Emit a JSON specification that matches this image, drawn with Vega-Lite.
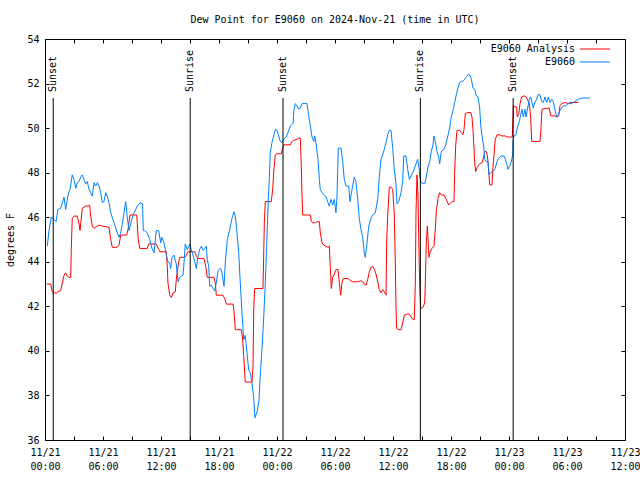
{
  "$schema": "https://vega.github.io/schema/vega-lite/v6.json",
  "autosize": "none",
  "width": 580,
  "height": 401,
  "padding": {"left": 45, "top": 39, "right": 15, "bottom": 40},
  "background": "white",
  "title": {"text": "Dew Point for E9060 on 2024-Nov-21 (time in UTC)", "font": "DejaVu Sans Mono", "fontSize": 10, "fontWeight": "normal", "color": "black", "baseline": "middle", "offset": 4, "anchor": "middle", "frame": "group"},
  "config": {
    "font": "DejaVu Sans Mono",
    "view": {"stroke": "black", "strokeWidth": 1},
    "axis": {"grid": false, "domain": false, "tickColor": "black", "labelColor": "black", "labelFont": "DejaVu Sans Mono", "labelFontSize": 10, "titleFont": "DejaVu Sans Mono", "titleFontSize": 10, "titleFontWeight": "normal", "titleColor": "black"}
  },
  "datasets": {
    "legend": [{"s": "E9060 Analysis"}, {"s": "E9060"}],
    "sun": [
      {"label": "Sunset", "h": 0.85},
      {"label": "Sunrise", "h": 15.02},
      {"label": "Sunset", "h": 24.62},
      {"label": "Sunrise", "h": 38.83},
      {"label": "Sunset", "h": 48.43}
    ],
    "dew": [
      {"s":"E9060 Analysis","h":0.18,"v":43.0},{"s":"E9060 Analysis","h":0.59,"v":43.0},{"s":"E9060 Analysis","h":0.76,"v":42.65},{"s":"E9060 Analysis","h":0.86,"v":42.6},{"s":"E9060 Analysis","h":1.21,"v":42.6},{"s":"E9060 Analysis","h":1.34,"v":42.65},{"s":"E9060 Analysis","h":1.62,"v":42.7},{"s":"E9060 Analysis","h":1.79,"v":43.05},{"s":"E9060 Analysis","h":1.97,"v":43.4},{"s":"E9060 Analysis","h":2.14,"v":43.5},{"s":"E9060 Analysis","h":2.31,"v":43.35},{"s":"E9060 Analysis","h":2.48,"v":43.3},{"s":"E9060 Analysis","h":2.66,"v":43.3},{"s":"E9060 Analysis","h":2.72,"v":44.55},{"s":"E9060 Analysis","h":2.82,"v":45.95},{"s":"E9060 Analysis","h":3.0,"v":46.05},{"s":"E9060 Analysis","h":3.34,"v":46.05},{"s":"E9060 Analysis","h":3.52,"v":45.7},{"s":"E9060 Analysis","h":3.62,"v":45.4},{"s":"E9060 Analysis","h":3.69,"v":45.7},{"s":"E9060 Analysis","h":3.86,"v":46.4},{"s":"E9060 Analysis","h":4.21,"v":46.5},{"s":"E9060 Analysis","h":4.48,"v":46.5},{"s":"E9060 Analysis","h":4.62,"v":46.55},{"s":"E9060 Analysis","h":4.73,"v":46.05},{"s":"E9060 Analysis","h":4.89,"v":45.6},{"s":"E9060 Analysis","h":5.07,"v":45.5},{"s":"E9060 Analysis","h":5.41,"v":45.6},{"s":"E9060 Analysis","h":5.59,"v":45.65},{"s":"E9060 Analysis","h":5.93,"v":45.6},{"s":"E9060 Analysis","h":6.62,"v":45.55},{"s":"E9060 Analysis","h":6.8,"v":45.0},{"s":"E9060 Analysis","h":6.96,"v":44.65},{"s":"E9060 Analysis","h":7.48,"v":44.65},{"s":"E9060 Analysis","h":7.66,"v":44.75},{"s":"E9060 Analysis","h":7.83,"v":45.2},{"s":"E9060 Analysis","h":8.45,"v":45.2},{"s":"E9060 Analysis","h":8.59,"v":45.45},{"s":"E9060 Analysis","h":8.79,"v":46.1},{"s":"E9060 Analysis","h":9.49,"v":46.1},{"s":"E9060 Analysis","h":9.65,"v":45.0},{"s":"E9060 Analysis","h":9.8,"v":44.6},{"s":"E9060 Analysis","h":10.58,"v":44.6},{"s":"E9060 Analysis","h":10.73,"v":44.8},{"s":"E9060 Analysis","h":11.51,"v":44.8},{"s":"E9060 Analysis","h":11.76,"v":44.55},{"s":"E9060 Analysis","h":11.87,"v":44.45},{"s":"E9060 Analysis","h":12.55,"v":44.45},{"s":"E9060 Analysis","h":12.65,"v":43.8},{"s":"E9060 Analysis","h":12.72,"v":43.05},{"s":"E9060 Analysis","h":12.9,"v":42.5},{"s":"E9060 Analysis","h":13.07,"v":42.4},{"s":"E9060 Analysis","h":13.24,"v":42.6},{"s":"E9060 Analysis","h":13.48,"v":42.65},{"s":"E9060 Analysis","h":13.58,"v":43.2},{"s":"E9060 Analysis","h":13.76,"v":43.8},{"s":"E9060 Analysis","h":13.93,"v":44.2},{"s":"E9060 Analysis","h":14.45,"v":44.2},{"s":"E9060 Analysis","h":14.62,"v":44.3},{"s":"E9060 Analysis","h":14.79,"v":44.45},{"s":"E9060 Analysis","h":15.49,"v":44.45},{"s":"E9060 Analysis","h":15.65,"v":44.25},{"s":"E9060 Analysis","h":15.83,"v":44.15},{"s":"E9060 Analysis","h":16.45,"v":44.15},{"s":"E9060 Analysis","h":16.62,"v":43.8},{"s":"E9060 Analysis","h":16.79,"v":43.3},{"s":"E9060 Analysis","h":17.48,"v":43.3},{"s":"E9060 Analysis","h":17.62,"v":43.05},{"s":"E9060 Analysis","h":17.72,"v":42.5},{"s":"E9060 Analysis","h":18.41,"v":42.5},{"s":"E9060 Analysis","h":18.59,"v":42.35},{"s":"E9060 Analysis","h":18.76,"v":42.1},{"s":"E9060 Analysis","h":19.45,"v":42.1},{"s":"E9060 Analysis","h":19.55,"v":41.8},{"s":"E9060 Analysis","h":19.69,"v":40.95},{"s":"E9060 Analysis","h":20.31,"v":40.95},{"s":"E9060 Analysis","h":20.45,"v":40.5},{"s":"E9060 Analysis","h":20.56,"v":39.75},{"s":"E9060 Analysis","h":20.72,"v":38.6},{"s":"E9060 Analysis","h":21.41,"v":38.6},{"s":"E9060 Analysis","h":21.52,"v":39.3},{"s":"E9060 Analysis","h":21.59,"v":41.8},{"s":"E9060 Analysis","h":21.69,"v":42.8},{"s":"E9060 Analysis","h":22.55,"v":42.8},{"s":"E9060 Analysis","h":22.62,"v":44.25},{"s":"E9060 Analysis","h":22.69,"v":45.75},{"s":"E9060 Analysis","h":22.79,"v":46.7},{"s":"E9060 Analysis","h":23.41,"v":46.7},{"s":"E9060 Analysis","h":23.55,"v":47.25},{"s":"E9060 Analysis","h":23.66,"v":48.0},{"s":"E9060 Analysis","h":23.82,"v":48.8},{"s":"E9060 Analysis","h":24.0,"v":48.85},{"s":"E9060 Analysis","h":24.45,"v":48.85},{"s":"E9060 Analysis","h":24.59,"v":49.1},{"s":"E9060 Analysis","h":24.69,"v":49.25},{"s":"E9060 Analysis","h":25.38,"v":49.25},{"s":"E9060 Analysis","h":25.55,"v":49.4},{"s":"E9060 Analysis","h":25.73,"v":49.45},{"s":"E9060 Analysis","h":26.07,"v":49.5},{"s":"E9060 Analysis","h":26.24,"v":49.55},{"s":"E9060 Analysis","h":26.41,"v":49.55},{"s":"E9060 Analysis","h":26.48,"v":48.75},{"s":"E9060 Analysis","h":26.59,"v":46.95},{"s":"E9060 Analysis","h":26.66,"v":46.1},{"s":"E9060 Analysis","h":27.45,"v":46.1},{"s":"E9060 Analysis","h":27.55,"v":45.8},{"s":"E9060 Analysis","h":27.69,"v":45.75},{"s":"E9060 Analysis","h":27.96,"v":45.75},{"s":"E9060 Analysis","h":28.14,"v":45.8},{"s":"E9060 Analysis","h":28.38,"v":45.8},{"s":"E9060 Analysis","h":28.48,"v":45.3},{"s":"E9060 Analysis","h":28.66,"v":44.85},{"s":"E9060 Analysis","h":28.83,"v":44.75},{"s":"E9060 Analysis","h":29.28,"v":44.65},{"s":"E9060 Analysis","h":29.41,"v":44.7},{"s":"E9060 Analysis","h":29.51,"v":43.8},{"s":"E9060 Analysis","h":29.62,"v":42.8},{"s":"E9060 Analysis","h":29.76,"v":43.3},{"s":"E9060 Analysis","h":29.93,"v":43.45},{"s":"E9060 Analysis","h":30.1,"v":43.65},{"s":"E9060 Analysis","h":30.31,"v":43.65},{"s":"E9060 Analysis","h":30.45,"v":43.05},{"s":"E9060 Analysis","h":30.59,"v":42.5},{"s":"E9060 Analysis","h":30.72,"v":43.05},{"s":"E9060 Analysis","h":30.86,"v":43.25},{"s":"E9060 Analysis","h":31.31,"v":43.25},{"s":"E9060 Analysis","h":31.48,"v":43.2},{"s":"E9060 Analysis","h":31.83,"v":43.1},{"s":"E9060 Analysis","h":32.35,"v":43.1},{"s":"E9060 Analysis","h":32.69,"v":43.15},{"s":"E9060 Analysis","h":32.86,"v":43.1},{"s":"E9060 Analysis","h":33.03,"v":43.0},{"s":"E9060 Analysis","h":33.21,"v":42.95},{"s":"E9060 Analysis","h":33.38,"v":43.2},{"s":"E9060 Analysis","h":33.55,"v":43.55},{"s":"E9060 Analysis","h":33.72,"v":43.75},{"s":"E9060 Analysis","h":33.9,"v":43.8},{"s":"E9060 Analysis","h":34.07,"v":43.65},{"s":"E9060 Analysis","h":34.24,"v":43.45},{"s":"E9060 Analysis","h":34.42,"v":43.1},{"s":"E9060 Analysis","h":34.58,"v":42.75},{"s":"E9060 Analysis","h":34.76,"v":42.6},{"s":"E9060 Analysis","h":34.93,"v":42.75},{"s":"E9060 Analysis","h":35.1,"v":42.65},{"s":"E9060 Analysis","h":35.28,"v":42.5},{"s":"E9060 Analysis","h":35.35,"v":45.0},{"s":"E9060 Analysis","h":35.45,"v":46.05},{"s":"E9060 Analysis","h":35.62,"v":47.35},{"s":"E9060 Analysis","h":35.79,"v":47.35},{"s":"E9060 Analysis","h":35.97,"v":47.25},{"s":"E9060 Analysis","h":36.13,"v":46.2},{"s":"E9060 Analysis","h":36.24,"v":43.95},{"s":"E9060 Analysis","h":36.31,"v":42.0},{"s":"E9060 Analysis","h":36.38,"v":41.0},{"s":"E9060 Analysis","h":36.59,"v":40.95},{"s":"E9060 Analysis","h":36.83,"v":40.95},{"s":"E9060 Analysis","h":37.0,"v":41.25},{"s":"E9060 Analysis","h":37.17,"v":41.6},{"s":"E9060 Analysis","h":37.42,"v":41.65},{"s":"E9060 Analysis","h":37.69,"v":41.65},{"s":"E9060 Analysis","h":37.97,"v":41.45},{"s":"E9060 Analysis","h":38.2,"v":41.4},{"s":"E9060 Analysis","h":38.31,"v":43.0},{"s":"E9060 Analysis","h":38.38,"v":46.2},{"s":"E9060 Analysis","h":38.48,"v":47.9},{"s":"E9060 Analysis","h":38.59,"v":46.95},{"s":"E9060 Analysis","h":38.66,"v":45.1},{"s":"E9060 Analysis","h":38.76,"v":43.0},{"s":"E9060 Analysis","h":38.86,"v":41.9},{"s":"E9060 Analysis","h":39.1,"v":41.95},{"s":"E9060 Analysis","h":39.28,"v":42.15},{"s":"E9060 Analysis","h":39.34,"v":43.0},{"s":"E9060 Analysis","h":39.44,"v":44.8},{"s":"E9060 Analysis","h":39.55,"v":45.6},{"s":"E9060 Analysis","h":39.62,"v":45.1},{"s":"E9060 Analysis","h":39.72,"v":44.2},{"s":"E9060 Analysis","h":39.86,"v":44.45},{"s":"E9060 Analysis","h":40.03,"v":44.6},{"s":"E9060 Analysis","h":40.24,"v":44.7},{"s":"E9060 Analysis","h":40.38,"v":45.5},{"s":"E9060 Analysis","h":40.48,"v":46.25},{"s":"E9060 Analysis","h":40.66,"v":46.85},{"s":"E9060 Analysis","h":40.83,"v":47.1},{"s":"E9060 Analysis","h":41.0,"v":47.0},{"s":"E9060 Analysis","h":41.28,"v":47.0},{"s":"E9060 Analysis","h":41.51,"v":46.8},{"s":"E9060 Analysis","h":41.76,"v":46.55},{"s":"E9060 Analysis","h":41.97,"v":46.65},{"s":"E9060 Analysis","h":42.13,"v":46.7},{"s":"E9060 Analysis","h":42.31,"v":46.7},{"s":"E9060 Analysis","h":42.38,"v":48.05},{"s":"E9060 Analysis","h":42.49,"v":49.25},{"s":"E9060 Analysis","h":42.62,"v":49.9},{"s":"E9060 Analysis","h":42.9,"v":49.9},{"s":"E9060 Analysis","h":43.07,"v":49.8},{"s":"E9060 Analysis","h":43.24,"v":49.7},{"s":"E9060 Analysis","h":43.35,"v":49.95},{"s":"E9060 Analysis","h":43.48,"v":50.65},{"s":"E9060 Analysis","h":43.69,"v":50.7},{"s":"E9060 Analysis","h":44.04,"v":50.7},{"s":"E9060 Analysis","h":44.17,"v":50.5},{"s":"E9060 Analysis","h":44.28,"v":49.9},{"s":"E9060 Analysis","h":44.38,"v":49.1},{"s":"E9060 Analysis","h":44.45,"v":48.45},{"s":"E9060 Analysis","h":44.55,"v":48.05},{"s":"E9060 Analysis","h":44.72,"v":48.25},{"s":"E9060 Analysis","h":44.97,"v":48.4},{"s":"E9060 Analysis","h":45.21,"v":48.45},{"s":"E9060 Analysis","h":45.38,"v":48.7},{"s":"E9060 Analysis","h":45.49,"v":48.95},{"s":"E9060 Analysis","h":45.65,"v":48.95},{"s":"E9060 Analysis","h":45.76,"v":48.75},{"s":"E9060 Analysis","h":45.83,"v":48.5},{"s":"E9060 Analysis","h":45.93,"v":47.9},{"s":"E9060 Analysis","h":46.0,"v":47.45},{"s":"E9060 Analysis","h":46.24,"v":47.45},{"s":"E9060 Analysis","h":46.34,"v":48.25},{"s":"E9060 Analysis","h":46.45,"v":48.8},{"s":"E9060 Analysis","h":46.58,"v":49.5},{"s":"E9060 Analysis","h":46.76,"v":49.7},{"s":"E9060 Analysis","h":47.04,"v":49.7},{"s":"E9060 Analysis","h":47.2,"v":49.65},{"s":"E9060 Analysis","h":47.62,"v":49.65},{"s":"E9060 Analysis","h":47.83,"v":49.6},{"s":"E9060 Analysis","h":48.34,"v":49.6},{"s":"E9060 Analysis","h":48.45,"v":51.0},{"s":"E9060 Analysis","h":48.62,"v":50.95},{"s":"E9060 Analysis","h":48.79,"v":50.95},{"s":"E9060 Analysis","h":48.86,"v":50.5},{"s":"E9060 Analysis","h":49.0,"v":50.6},{"s":"E9060 Analysis","h":49.14,"v":51.1},{"s":"E9060 Analysis","h":49.31,"v":51.4},{"s":"E9060 Analysis","h":49.55,"v":51.45},{"s":"E9060 Analysis","h":49.76,"v":51.4},{"s":"E9060 Analysis","h":49.89,"v":51.3},{"s":"E9060 Analysis","h":50.1,"v":51.1},{"s":"E9060 Analysis","h":50.24,"v":50.5},{"s":"E9060 Analysis","h":50.35,"v":49.4},{"s":"E9060 Analysis","h":51.21,"v":49.4},{"s":"E9060 Analysis","h":51.31,"v":50.0},{"s":"E9060 Analysis","h":51.41,"v":50.85},{"s":"E9060 Analysis","h":52.17,"v":50.9},{"s":"E9060 Analysis","h":52.31,"v":50.55},{"s":"E9060 Analysis","h":52.76,"v":50.55},{"s":"E9060 Analysis","h":52.93,"v":50.5},{"s":"E9060 Analysis","h":53.14,"v":50.55},{"s":"E9060 Analysis","h":53.28,"v":51.0},{"s":"E9060 Analysis","h":53.45,"v":51.1},{"s":"E9060 Analysis","h":53.79,"v":51.15},{"s":"E9060 Analysis","h":54.13,"v":51.1},{"s":"E9060 Analysis","h":54.31,"v":51.15},{"s":"E9060 Analysis","h":55.17,"v":51.15},
      {"s":"E9060","h":0.24,"v":44.7},{"s":"E9060","h":0.41,"v":45.4},{"s":"E9060","h":0.65,"v":46.0},{"s":"E9060","h":0.93,"v":45.9},{"s":"E9060","h":1.14,"v":45.8},{"s":"E9060","h":1.34,"v":46.35},{"s":"E9060","h":1.62,"v":46.4},{"s":"E9060","h":1.79,"v":46.65},{"s":"E9060","h":1.97,"v":46.9},{"s":"E9060","h":2.14,"v":46.35},{"s":"E9060","h":2.38,"v":47.0},{"s":"E9060","h":2.59,"v":47.25},{"s":"E9060","h":2.82,"v":47.9},{"s":"E9060","h":3.0,"v":47.7},{"s":"E9060","h":3.18,"v":47.3},{"s":"E9060","h":3.34,"v":47.55},{"s":"E9060","h":3.52,"v":47.6},{"s":"E9060","h":3.69,"v":47.8},{"s":"E9060","h":3.86,"v":47.9},{"s":"E9060","h":4.03,"v":47.7},{"s":"E9060","h":4.21,"v":47.5},{"s":"E9060","h":4.38,"v":47.6},{"s":"E9060","h":4.55,"v":47.25},{"s":"E9060","h":4.73,"v":47.1},{"s":"E9060","h":4.89,"v":46.95},{"s":"E9060","h":5.07,"v":47.55},{"s":"E9060","h":5.24,"v":47.4},{"s":"E9060","h":5.41,"v":47.55},{"s":"E9060","h":5.59,"v":47.4},{"s":"E9060","h":5.76,"v":47.1},{"s":"E9060","h":5.93,"v":46.65},{"s":"E9060","h":6.1,"v":46.7},{"s":"E9060","h":6.28,"v":47.1},{"s":"E9060","h":6.44,"v":46.95},{"s":"E9060","h":6.62,"v":46.65},{"s":"E9060","h":6.8,"v":46.2},{"s":"E9060","h":7.14,"v":45.75},{"s":"E9060","h":7.48,"v":45.3},{"s":"E9060","h":7.66,"v":45.1},{"s":"E9060","h":7.83,"v":45.3},{"s":"E9060","h":8.0,"v":45.7},{"s":"E9060","h":8.17,"v":46.2},{"s":"E9060","h":8.35,"v":46.7},{"s":"E9060","h":8.51,"v":46.0},{"s":"E9060","h":8.69,"v":45.4},{"s":"E9060","h":8.87,"v":45.7},{"s":"E9060","h":9.03,"v":46.0},{"s":"E9060","h":9.21,"v":46.2},{"s":"E9060","h":9.55,"v":46.5},{"s":"E9060","h":9.83,"v":46.65},{"s":"E9060","h":10.09,"v":46.6},{"s":"E9060","h":10.17,"v":45.4},{"s":"E9060","h":10.31,"v":45.4},{"s":"E9060","h":10.58,"v":45.3},{"s":"E9060","h":10.83,"v":45.0},{"s":"E9060","h":11.07,"v":44.6},{"s":"E9060","h":11.28,"v":44.4},{"s":"E9060","h":11.51,"v":45.4},{"s":"E9060","h":11.76,"v":45.4},{"s":"E9060","h":11.97,"v":44.85},{"s":"E9060","h":12.1,"v":45.1},{"s":"E9060","h":12.31,"v":44.85},{"s":"E9060","h":12.55,"v":44.3},{"s":"E9060","h":12.72,"v":44.0},{"s":"E9060","h":12.9,"v":43.95},{"s":"E9060","h":13.0,"v":43.7},{"s":"E9060","h":13.14,"v":44.2},{"s":"E9060","h":13.34,"v":44.3},{"s":"E9060","h":13.58,"v":43.9},{"s":"E9060","h":13.76,"v":43.1},{"s":"E9060","h":13.93,"v":43.3},{"s":"E9060","h":14.1,"v":43.35},{"s":"E9060","h":14.28,"v":43.4},{"s":"E9060","h":14.38,"v":43.95},{"s":"E9060","h":14.51,"v":44.8},{"s":"E9060","h":14.72,"v":44.55},{"s":"E9060","h":14.87,"v":44.7},{"s":"E9060","h":15.0,"v":44.8},{"s":"E9060","h":15.13,"v":44.55},{"s":"E9060","h":15.31,"v":44.3},{"s":"E9060","h":15.49,"v":44.0},{"s":"E9060","h":15.65,"v":43.7},{"s":"E9060","h":15.83,"v":44.25},{"s":"E9060","h":16.0,"v":44.55},{"s":"E9060","h":16.17,"v":44.7},{"s":"E9060","h":16.38,"v":44.5},{"s":"E9060","h":16.52,"v":44.6},{"s":"E9060","h":16.69,"v":44.7},{"s":"E9060","h":16.79,"v":44.1},{"s":"E9060","h":16.93,"v":43.8},{"s":"E9060","h":17.04,"v":42.9},{"s":"E9060","h":17.2,"v":42.95},{"s":"E9060","h":17.38,"v":42.8},{"s":"E9060","h":17.55,"v":42.7},{"s":"E9060","h":17.72,"v":43.05},{"s":"E9060","h":17.9,"v":43.6},{"s":"E9060","h":18.07,"v":43.7},{"s":"E9060","h":18.24,"v":43.65},{"s":"E9060","h":18.41,"v":43.2},{"s":"E9060","h":18.52,"v":42.9},{"s":"E9060","h":18.65,"v":43.95},{"s":"E9060","h":18.86,"v":45.0},{"s":"E9060","h":19.11,"v":45.45},{"s":"E9060","h":19.34,"v":45.95},{"s":"E9060","h":19.55,"v":46.25},{"s":"E9060","h":19.69,"v":46.05},{"s":"E9060","h":19.86,"v":45.3},{"s":"E9060","h":20.04,"v":44.4},{"s":"E9060","h":20.2,"v":43.05},{"s":"E9060","h":20.38,"v":41.7},{"s":"E9060","h":20.56,"v":40.5},{"s":"E9060","h":20.72,"v":40.7},{"s":"E9060","h":20.9,"v":39.9},{"s":"E9060","h":21.07,"v":39.15},{"s":"E9060","h":21.24,"v":39.0},{"s":"E9060","h":21.41,"v":38.55},{"s":"E9060","h":21.59,"v":37.9},{"s":"E9060","h":21.72,"v":37.0},{"s":"E9060","h":21.96,"v":37.3},{"s":"E9060","h":22.14,"v":37.8},{"s":"E9060","h":22.24,"v":38.7},{"s":"E9060","h":22.42,"v":39.9},{"s":"E9060","h":22.58,"v":41.1},{"s":"E9060","h":22.76,"v":42.75},{"s":"E9060","h":22.93,"v":44.7},{"s":"E9060","h":23.1,"v":46.8},{"s":"E9060","h":23.2,"v":47.7},{"s":"E9060","h":23.31,"v":48.9},{"s":"E9060","h":23.48,"v":49.35},{"s":"E9060","h":23.66,"v":49.65},{"s":"E9060","h":23.82,"v":49.95},{"s":"E9060","h":24.0,"v":49.9},{"s":"E9060","h":24.17,"v":49.65},{"s":"E9060","h":24.34,"v":49.4},{"s":"E9060","h":24.52,"v":49.35},{"s":"E9060","h":24.69,"v":49.5},{"s":"E9060","h":24.93,"v":49.6},{"s":"E9060","h":25.14,"v":49.8},{"s":"E9060","h":25.38,"v":50.1},{"s":"E9060","h":25.66,"v":50.2},{"s":"E9060","h":25.76,"v":50.85},{"s":"E9060","h":25.89,"v":51.1},{"s":"E9060","h":26.07,"v":51.0},{"s":"E9060","h":26.24,"v":50.85},{"s":"E9060","h":26.41,"v":50.9},{"s":"E9060","h":26.59,"v":51.1},{"s":"E9060","h":27.1,"v":51.1},{"s":"E9060","h":27.28,"v":50.55},{"s":"E9060","h":27.45,"v":50.1},{"s":"E9060","h":27.62,"v":49.6},{"s":"E9060","h":27.8,"v":49.4},{"s":"E9060","h":27.9,"v":49.65},{"s":"E9060","h":28.03,"v":49.35},{"s":"E9060","h":28.24,"v":48.6},{"s":"E9060","h":28.38,"v":47.7},{"s":"E9060","h":28.48,"v":47.25},{"s":"E9060","h":28.66,"v":47.1},{"s":"E9060","h":28.93,"v":47.0},{"s":"E9060","h":29.1,"v":46.9},{"s":"E9060","h":29.28,"v":46.65},{"s":"E9060","h":29.41,"v":46.5},{"s":"E9060","h":29.59,"v":46.8},{"s":"E9060","h":29.76,"v":46.55},{"s":"E9060","h":29.93,"v":46.8},{"s":"E9060","h":30.1,"v":46.2},{"s":"E9060","h":30.21,"v":46.95},{"s":"E9060","h":30.34,"v":49.1},{"s":"E9060","h":30.62,"v":49.1},{"s":"E9060","h":30.8,"v":48.5},{"s":"E9060","h":30.96,"v":47.7},{"s":"E9060","h":31.14,"v":47.4},{"s":"E9060","h":31.42,"v":47.4},{"s":"E9060","h":31.55,"v":46.7},{"s":"E9060","h":31.76,"v":47.25},{"s":"E9060","h":32.0,"v":47.8},{"s":"E9060","h":32.17,"v":47.6},{"s":"E9060","h":32.35,"v":46.8},{"s":"E9060","h":32.51,"v":45.95},{"s":"E9060","h":32.69,"v":45.45},{"s":"E9060","h":32.86,"v":45.1},{"s":"E9060","h":33.03,"v":44.4},{"s":"E9060","h":33.13,"v":44.2},{"s":"E9060","h":33.28,"v":44.7},{"s":"E9060","h":33.49,"v":45.6},{"s":"E9060","h":33.72,"v":45.95},{"s":"E9060","h":33.9,"v":46.1},{"s":"E9060","h":34.17,"v":46.2},{"s":"E9060","h":34.42,"v":46.8},{"s":"E9060","h":34.58,"v":47.8},{"s":"E9060","h":34.76,"v":48.6},{"s":"E9060","h":34.93,"v":48.8},{"s":"E9060","h":35.1,"v":49.05},{"s":"E9060","h":35.28,"v":49.35},{"s":"E9060","h":35.45,"v":49.7},{"s":"E9060","h":35.62,"v":49.9},{"s":"E9060","h":35.79,"v":49.9},{"s":"E9060","h":35.97,"v":49.1},{"s":"E9060","h":36.13,"v":48.15},{"s":"E9060","h":36.31,"v":47.5},{"s":"E9060","h":36.41,"v":46.6},{"s":"E9060","h":36.59,"v":46.7},{"s":"E9060","h":36.83,"v":47.1},{"s":"E9060","h":37.0,"v":47.6},{"s":"E9060","h":37.11,"v":48.75},{"s":"E9060","h":37.34,"v":48.75},{"s":"E9060","h":37.52,"v":48.15},{"s":"E9060","h":37.69,"v":47.7},{"s":"E9060","h":37.86,"v":47.85},{"s":"E9060","h":38.1,"v":48.05},{"s":"E9060","h":38.38,"v":48.4},{"s":"E9060","h":38.55,"v":48.6},{"s":"E9060","h":38.72,"v":48.15},{"s":"E9060","h":38.76,"v":47.8},{"s":"E9060","h":38.93,"v":47.55},{"s":"E9060","h":39.28,"v":47.5},{"s":"E9060","h":39.44,"v":47.8},{"s":"E9060","h":39.62,"v":48.25},{"s":"E9060","h":39.8,"v":48.5},{"s":"E9060","h":39.96,"v":48.95},{"s":"E9060","h":40.14,"v":49.25},{"s":"E9060","h":40.24,"v":49.65},{"s":"E9060","h":40.38,"v":49.4},{"s":"E9060","h":40.55,"v":48.95},{"s":"E9060","h":40.73,"v":48.7},{"s":"E9060","h":40.83,"v":48.4},{"s":"E9060","h":41.0,"v":48.95},{"s":"E9060","h":41.28,"v":49.05},{"s":"E9060","h":41.45,"v":49.25},{"s":"E9060","h":41.62,"v":49.55},{"s":"E9060","h":41.86,"v":50.0},{"s":"E9060","h":42.03,"v":50.5},{"s":"E9060","h":42.21,"v":50.8},{"s":"E9060","h":42.38,"v":51.15},{"s":"E9060","h":42.55,"v":51.5},{"s":"E9060","h":42.72,"v":51.8},{"s":"E9060","h":42.9,"v":52.05},{"s":"E9060","h":43.07,"v":52.1},{"s":"E9060","h":43.24,"v":52.1},{"s":"E9060","h":43.42,"v":52.2},{"s":"E9060","h":43.58,"v":52.3},{"s":"E9060","h":43.76,"v":52.4},{"s":"E9060","h":43.93,"v":52.4},{"s":"E9060","h":44.1,"v":52.2},{"s":"E9060","h":44.28,"v":51.8},{"s":"E9060","h":44.45,"v":51.75},{"s":"E9060","h":44.62,"v":51.45},{"s":"E9060","h":44.79,"v":51.4},{"s":"E9060","h":44.97,"v":50.9},{"s":"E9060","h":45.07,"v":50.15},{"s":"E9060","h":45.21,"v":49.65},{"s":"E9060","h":45.38,"v":49.2},{"s":"E9060","h":45.49,"v":48.6},{"s":"E9060","h":45.65,"v":48.5},{"s":"E9060","h":45.83,"v":48.5},{"s":"E9060","h":45.93,"v":47.9},{"s":"E9060","h":46.11,"v":48.0},{"s":"E9060","h":46.34,"v":48.05},{"s":"E9060","h":46.58,"v":48.2},{"s":"E9060","h":46.76,"v":48.5},{"s":"E9060","h":46.93,"v":48.65},{"s":"E9060","h":47.2,"v":48.75},{"s":"E9060","h":47.48,"v":48.75},{"s":"E9060","h":47.62,"v":48.6},{"s":"E9060","h":47.76,"v":48.4},{"s":"E9060","h":47.9,"v":48.15},{"s":"E9060","h":48.07,"v":48.3},{"s":"E9060","h":48.24,"v":48.5},{"s":"E9060","h":48.38,"v":48.8},{"s":"E9060","h":48.41,"v":49.4},{"s":"E9060","h":48.52,"v":49.65},{"s":"E9060","h":48.72,"v":49.7},{"s":"E9060","h":48.86,"v":50.0},{"s":"E9060","h":49.07,"v":50.3},{"s":"E9060","h":49.21,"v":50.6},{"s":"E9060","h":49.34,"v":50.85},{"s":"E9060","h":49.48,"v":50.5},{"s":"E9060","h":49.66,"v":50.85},{"s":"E9060","h":49.76,"v":50.5},{"s":"E9060","h":49.89,"v":50.8},{"s":"E9060","h":50.1,"v":51.3},{"s":"E9060","h":50.24,"v":51.4},{"s":"E9060","h":50.38,"v":51.15},{"s":"E9060","h":50.51,"v":50.9},{"s":"E9060","h":50.66,"v":51.15},{"s":"E9060","h":50.86,"v":51.3},{"s":"E9060","h":51.0,"v":51.5},{"s":"E9060","h":51.21,"v":51.5},{"s":"E9060","h":51.38,"v":51.2},{"s":"E9060","h":51.55,"v":51.15},{"s":"E9060","h":51.72,"v":51.4},{"s":"E9060","h":51.9,"v":51.15},{"s":"E9060","h":52.07,"v":51.4},{"s":"E9060","h":52.24,"v":51.15},{"s":"E9060","h":52.42,"v":51.3},{"s":"E9060","h":52.58,"v":51.2},{"s":"E9060","h":52.76,"v":50.8},{"s":"E9060","h":52.93,"v":50.5},{"s":"E9060","h":53.1,"v":50.6},{"s":"E9060","h":53.28,"v":50.8},{"s":"E9060","h":53.45,"v":50.9},{"s":"E9060","h":53.62,"v":51.0},{"s":"E9060","h":53.9,"v":51.0},{"s":"E9060","h":54.13,"v":51.1},{"s":"E9060","h":54.48,"v":51.1},{"s":"E9060","h":54.65,"v":51.15},{"s":"E9060","h":54.83,"v":51.2},{"s":"E9060","h":55.17,"v":51.3},{"s":"E9060","h":55.52,"v":51.35},{"s":"E9060","h":56.38,"v":51.35}
    ]
  },
  "resolve": {"axis": {"x": "independent", "y": "independent"}},
  "layer": [
    {
      "data": {"name": "dew"},
      "mark": {"type": "line", "strokeWidth": 1, "interpolate": "linear"},
      "encoding": {
        "x": {"field": "h", "type": "quantitative", "scale": {"domain": [0, 60], "nice": false, "zero": false},
              "axis": {"orient": "bottom", "title": null, "values": [0,3,6,9,12,15,18,21,24,27,30,33,36,39,42,45,48,51,54,57,60], "tickSize": -4, "labelPadding": 11, "labelBaseline": "top", "labelLineHeight": 14, "labelOverlap": false, "labelFlush": false,
                       "labelExpr": "datum.value % 6 === 0 ? ['11/' + (21 + floor(datum.value/24)), (datum.value % 24 < 10 ? '0' : '') + (datum.value % 24) + ':00'] : ''"}},
        "y": {"field": "v", "type": "quantitative", "scale": {"domain": [36, 54], "nice": false, "zero": false},
              "axis": {"orient": "left", "title": "degrees F", "values": [36,38,40,42,44,46,48,50,52,54], "tickSize": -4, "labelPadding": 10, "labelFlush": false, "labelOverlap": false, "titleX": -35, "titleY": 200.5, "titleAngle": 270, "titleAlign": "center", "titleBaseline": "middle"}},
        "color": {"field": "s", "type": "nominal",
                  "scale": {"domain": ["E9060 Analysis", "E9060"], "range": ["#ff0000", "#0080ff"]},
                  "legend": null}
      }
    },
    {
      "data": {"name": "sun"},
      "mark": {"type": "rule", "color": "black", "strokeWidth": 1},
      "encoding": {
        "x": {"field": "h", "type": "quantitative",
              "axis": {"orient": "top", "title": null, "labels": false, "values": [0,3,6,9,12,15,18,21,24,27,30,33,36,39,42,45,48,51,54,57,60], "tickSize": -4}},
        "y": {"datum": 36, "type": "quantitative",
              "axis": {"orient": "right", "title": null, "labels": false, "values": [36,38,40,42,44,46,48,50,52,54], "tickSize": -4}},
        "y2": {"datum": 51.35}
      }
    },
    {
      "data": {"name": "sun"},
      "mark": {"type": "text", "angle": 270, "align": "left", "baseline": "middle", "font": "DejaVu Sans Mono", "fontSize": 10, "color": "black"},
      "encoding": {
        "x": {"field": "h", "type": "quantitative", "axis": null},
        "y": {"datum": 51.62, "type": "quantitative", "axis": null},
        "text": {"field": "label"}
      }
    },
    {
      "data": {"name": "legend"},
      "transform": [{"filter": "datum.s === 'E9060 Analysis'"}],
      "layer": [
        {
          "mark": {"type": "rule", "strokeWidth": 1},
          "encoding": {
            "x": {"datum": 55.34, "type": "quantitative", "axis": null},
            "x2": {"datum": 58.45},
            "y": {"datum": 53.55, "type": "quantitative", "axis": null},
            "color": {"field": "s", "type": "nominal", "legend": null}
          }
        },
        {
          "mark": {"type": "text", "align": "right", "baseline": "middle", "font": "DejaVu Sans Mono", "fontSize": 10, "color": "black"},
          "encoding": {
            "x": {"datum": 54.83, "type": "quantitative", "axis": null},
            "y": {"datum": 53.55, "type": "quantitative", "axis": null},
            "text": {"field": "s"}
          }
        }
      ]
    },
    {
      "data": {"name": "legend"},
      "transform": [{"filter": "datum.s === 'E9060'"}],
      "layer": [
        {
          "mark": {"type": "rule", "strokeWidth": 1},
          "encoding": {
            "x": {"datum": 55.34, "type": "quantitative", "axis": null},
            "x2": {"datum": 58.45},
            "y": {"datum": 52.97, "type": "quantitative", "axis": null},
            "color": {"field": "s", "type": "nominal", "legend": null}
          }
        },
        {
          "mark": {"type": "text", "align": "right", "baseline": "middle", "font": "DejaVu Sans Mono", "fontSize": 10, "color": "black"},
          "encoding": {
            "x": {"datum": 54.83, "type": "quantitative", "axis": null},
            "y": {"datum": 52.97, "type": "quantitative", "axis": null},
            "text": {"field": "s"}
          }
        }
      ]
    }
  ]
}
